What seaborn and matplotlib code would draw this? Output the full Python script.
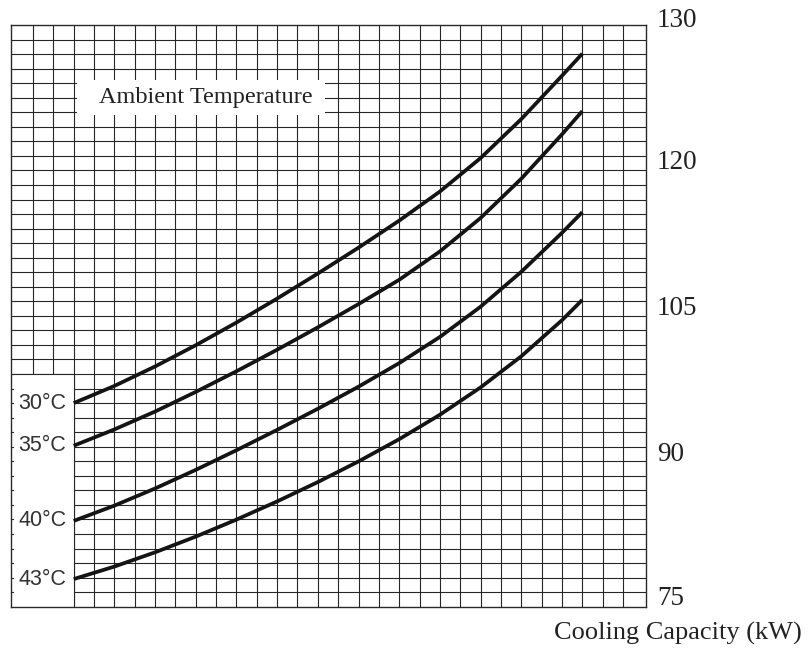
import numpy as np
import pandas as pd
import matplotlib
matplotlib.use("Agg")
import matplotlib.pyplot as plt
import matplotlib.transforms as mtransforms
from matplotlib.patches import Rectangle
import seaborn as sns

# ---- data (grid units) ----
capacity = [3, 5, 7, 9, 11, 13, 15, 17, 19, 21, 23, 25, 27, 28]
curve_30 = [14.0, 15.18, 16.52, 17.98, 19.54, 21.19, 22.91, 24.69, 26.55, 28.55, 30.85, 33.53, 36.51, 38.03]
curve_35 = [11.07, 12.19, 13.42, 14.77, 16.19, 17.67, 19.21, 20.81, 22.48, 24.43, 26.73, 29.43, 32.48, 34.08]
curve_40 = [5.9, 6.95, 8.13, 9.41, 10.76, 12.16, 13.61, 15.13, 16.75, 18.55, 20.63, 23.03, 25.71, 27.13]
curve_43 = [1.9, 2.76, 3.74, 4.82, 5.99, 7.24, 8.57, 9.99, 11.52, 13.2, 15.08, 17.22, 19.7, 21.1]
temps = ["30°C", "35°C", "40°C", "43°C"]
right_labels = ["130", "120", "105", "90", "75"]
right_label_pos = [40.3, 30.57, 20.52, 10.47, 0.57]
title_text = "Ambient Temperature"
xlabel_text = "Cooling Capacity (kW)"

series = [curve_30, curve_35, curve_40, curve_43]
df = pd.DataFrame({
    "capacity": np.tile(capacity, len(temps)),
    "value": np.concatenate(series),
    "temp": np.repeat(temps, len(capacity)),
})

sns.set_style("white")
plt.rcParams["font.family"] = ["Liberation Serif", "DejaVu Serif"]

fig = plt.figure(figsize=(8.08, 6.57), dpi=100)
ax = fig.add_axes([11 / 808, 1 - 606.7 / 657, 635 / 808, (606.7 - 25) / 657])

grid_color = "#262626"
ax.set_xlim(-0.082, 31.13)
ax.set_ylim(0, 40)
ax.set_xticks(np.arange(1, 31))
ax.set_yticks(np.arange(1, 40))
ax.set_axisbelow(True)
ax.grid(True, color=grid_color, lw=0.8)
ax.tick_params(left=False, bottom=False, labelleft=False, labelbottom=False)
for s in ax.spines.values():
    s.set_visible(True)
    s.set_color("#2a2a2a")
    s.set_linewidth(1.0)

# white label column on the left (leaves short tick stubs at the frame)
ax.add_patch(Rectangle((0.07, 0), 3 - 0.07, 16, facecolor="white",
                       edgecolor="none", zorder=1))
ax.plot([3, 3], [0, 16], color=grid_color, lw=0.8, zorder=1.1)
ax.plot([-0.082, 3], [16, 16], color=grid_color, lw=0.8, zorder=1.1)

# white box for the title
ax.add_patch(Rectangle((3.15, 33.82), 15.36 - 3.15, 36.22 - 33.82,
                       facecolor="white", edgecolor="none", zorder=1))
ax.text(9.5, 34.62, title_text, ha="center", va="baseline", fontsize=17.5,
        color="#222222", zorder=2)

sns.lineplot(data=df, x="capacity", y="value", hue="temp",
             palette=["#141414"] * 4, legend=False, estimator=None,
             lw=2.7, ax=ax, zorder=3, solid_capstyle="butt",
             solid_joinstyle="round")
ax.set_xlabel("")
ax.set_ylabel("")

# curve labels
for t, s in zip(temps, series):
    ax.text(0.28, s[0], t, ha="left", va="center", fontsize=15.5,
            family=["Liberation Sans", "DejaVu Sans"], color="#333333", zorder=2)

# right-hand labels
trans = mtransforms.blended_transform_factory(ax.transAxes, ax.transData)
for lab, pos in zip(right_labels, right_label_pos):
    ax.text(1.017, pos, lab, transform=trans, ha="left", va="center",
            fontsize=19.5, color="#222222", clip_on=False)

fig.text(802 / 808, 1 - 633 / 657, xlabel_text, ha="right", va="center",
         fontsize=19, color="#222222")

fig.savefig("out.png", dpi=100)
